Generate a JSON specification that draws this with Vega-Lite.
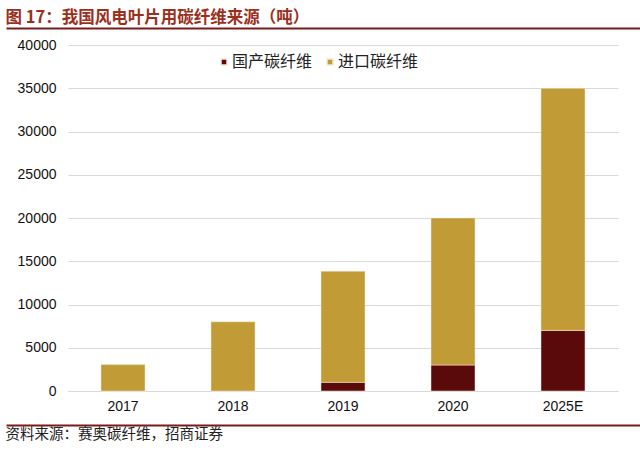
{
  "$schema": "https://vega.github.io/schema/vega-lite/v6.json",
  "padding": {"left": 5, "top": 9, "right": 0, "bottom": 0},
  "spacing": 10,
  "datasets": {
    "sources": [
      {"year": "2017", "source": "国产碳纤维", "tons": 0},
      {"year": "2017", "source": "进口碳纤维", "tons": 3050},
      {"year": "2018", "source": "国产碳纤维", "tons": 0},
      {"year": "2018", "source": "进口碳纤维", "tons": 8000},
      {"year": "2019", "source": "国产碳纤维", "tons": 1000},
      {"year": "2019", "source": "进口碳纤维", "tons": 12850},
      {"year": "2020", "source": "国产碳纤维", "tons": 3000},
      {"year": "2020", "source": "进口碳纤维", "tons": 17000},
      {"year": "2025E", "source": "国产碳纤维", "tons": 7000},
      {"year": "2025E", "source": "进口碳纤维", "tons": 28000}
    ]
  },
  "vconcat": [
    {
      "title": {
        "text": "图 17：我国风电叶片用碳纤维来源（吨）",
        "anchor": "start",
        "frame": "bounds",
        "font": "Noto Sans CJK SC",
        "fontSize": 16.5,
        "fontWeight": "bold",
        "color": "#9A2F1C",
        "offset": 1
      },
      "width": 573,
      "height": 1,
      "data": {"values": [{}]},
      "mark": {"type": "point", "opacity": 0, "size": 1},
      "encoding": {
        "x": {
          "datum": 0,
          "type": "quantitative",
          "scale": {"domain": [0, 1], "range": [-62, 573]},
          "axis": {"orient": "bottom", "title": null, "labels": false, "ticks": false, "grid": false, "domainColor": "#7A1B1B", "domainWidth": 2}
        }
      }
    },
    {
      "width": 550,
      "height": 346,
      "data": {"name": "sources"},
      "mark": {"type": "bar", "width": 44, "stroke": "#f4ead5", "strokeWidth": 0.5},
      "encoding": {
        "x": {
          "field": "year",
          "type": "nominal",
          "axis": {"title": null, "labelAngle": 0, "ticks": false, "domainColor": "#d9d9d9", "labelPadding": 8, "minExtent": 24}
        },
        "y": {
          "field": "tons",
          "type": "quantitative",
          "stack": "zero",
          "scale": {"domain": [0, 40000]},
          "axis": {"title": null, "tickCount": 8, "format": "d", "ticks": false, "domain": false, "gridColor": "#d9d9d9", "labelPadding": 12, "minExtent": 59}
        },
        "color": {
          "field": "source",
          "type": "nominal",
          "scale": {"domain": ["国产碳纤维", "进口碳纤维"], "range": ["#5A0A0A", "#C09B36"]},
          "legend": {
            "title": null,
            "orient": "none",
            "direction": "horizontal",
            "legendX": 148,
            "legendY": 27,
            "symbolType": "square",
            "symbolSize": 36,
            "labelFont": "Noto Sans CJK SC",
            "labelFontSize": 16,
            "labelColor": "#222222",
            "columnPadding": 9,
            "labelOffset": 0
          }
        },
        "order": {"field": "source", "sort": "ascending"}
      }
    },
    {
      "title": {
        "text": "资料来源：赛奥碳纤维，招商证券",
        "orient": "bottom",
        "anchor": "start",
        "frame": "bounds",
        "font": "Noto Sans CJK SC",
        "fontSize": 14.5,
        "fontWeight": "normal",
        "color": "#222222",
        "offset": 2
      },
      "width": 573,
      "height": 1,
      "data": {"values": [{}]},
      "mark": {"type": "point", "opacity": 0, "size": 1},
      "encoding": {
        "x": {
          "datum": 0,
          "type": "quantitative",
          "scale": {"domain": [0, 1], "range": [-62, 573]},
          "axis": {"orient": "top", "title": null, "labels": false, "ticks": false, "grid": false, "domainColor": "#7A1B1B", "domainWidth": 2}
        }
      }
    }
  ],
  "config": {
    "font": "Liberation Sans",
    "view": {"stroke": null},
    "axis": {"labelFontSize": 14, "labelColor": "#111111", "grid": true},
    "axisX": {"grid": false}
  }
}
